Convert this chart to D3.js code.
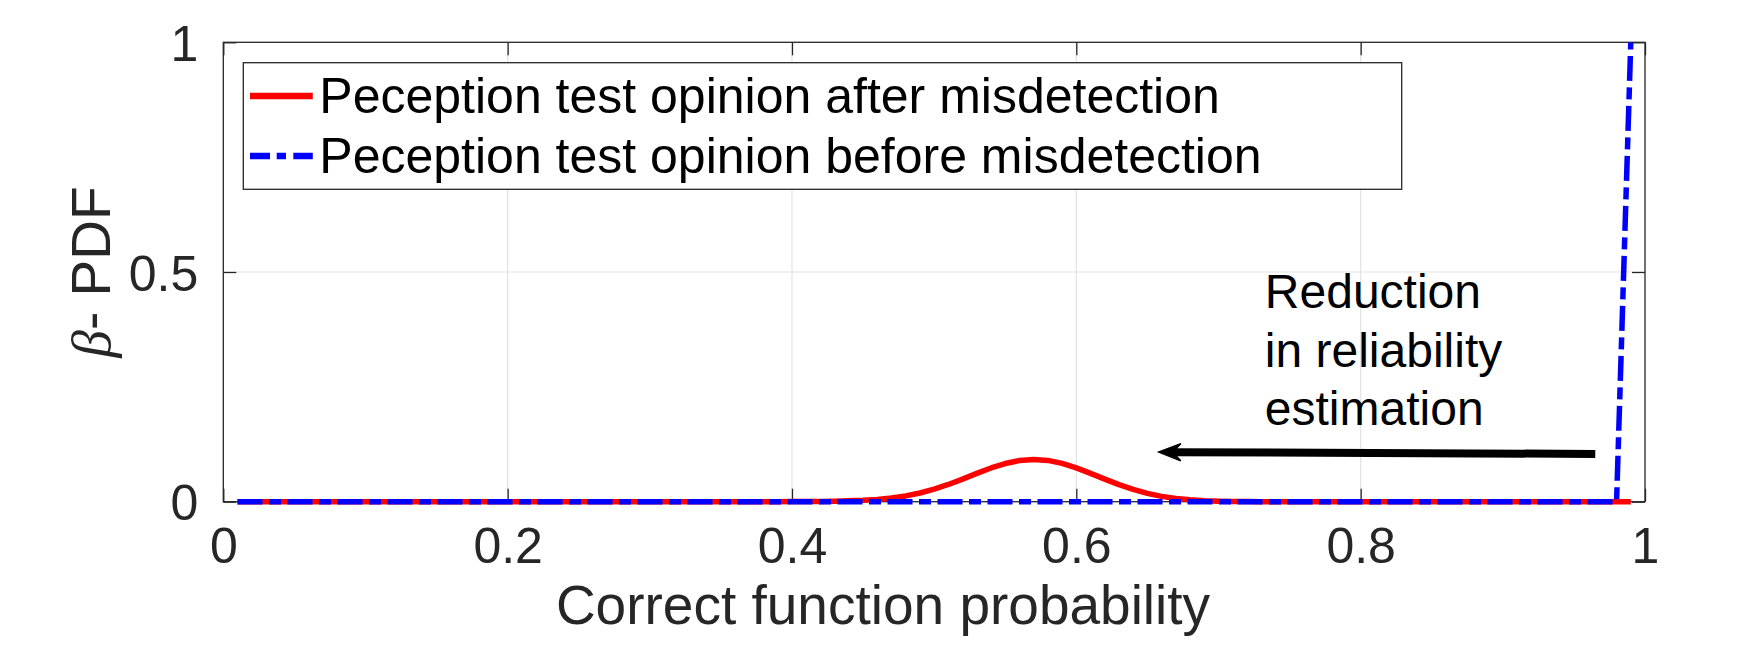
<!DOCTYPE html>
<html>
<head>
<meta charset="utf-8">
<script src="https://cdn.jsdelivr.net/npm/d3@7"></script>
<style>
  body { margin: 0; background: #fff; }
  text { font-family: "Liberation Sans", Arial, Helvetica, sans-serif; }
</style>
</head>
<body>
<div id="chart"></div>
<script>
// Data
// ==============================
var probability = [
  0.01, 0.02, 0.03, 0.04, 0.05, 0.06, 0.07, 0.08, 0.09, 0.10,
  0.11, 0.12, 0.13, 0.14, 0.15, 0.16, 0.17, 0.18, 0.19, 0.20,
  0.21, 0.22, 0.23, 0.24, 0.25, 0.26, 0.27, 0.28, 0.29, 0.30,
  0.31, 0.32, 0.33, 0.34, 0.35, 0.36, 0.37, 0.38, 0.39, 0.40,
  0.41, 0.42, 0.43, 0.44, 0.45, 0.46, 0.47, 0.48, 0.49, 0.50,
  0.51, 0.52, 0.53, 0.54, 0.55, 0.56, 0.57, 0.58, 0.59, 0.60,
  0.61, 0.62, 0.63, 0.64, 0.65, 0.66, 0.67, 0.68, 0.69, 0.70,
  0.71, 0.72, 0.73, 0.74, 0.75, 0.76, 0.77, 0.78, 0.79, 0.80,
  0.81, 0.82, 0.83, 0.84, 0.85, 0.86, 0.87, 0.88, 0.89, 0.90,
  0.91, 0.92, 0.93, 0.94, 0.95, 0.96, 0.97, 0.98, 0.99
];

// after misdetection (red)
var pdfAfter = [
  0, 0, 0, 0, 0, 0, 0, 0, 0, 0,
  0, 0, 0, 0, 0, 0, 0, 0, 0, 0,
  0, 0, 0, 0, 0, 0, 0, 0, 0, 0,
  0, 0, 0, 0, 0, 0, 0, 0, 0, 0.0002,
  0.0003, 0.0006, 0.0010, 0.0018, 0.0030, 0.0050, 0.0081, 0.0126, 0.0190, 0.0273,
  0.0375, 0.0492, 0.0616, 0.0734, 0.0831, 0.0896, 0.0920, 0.0899, 0.0835, 0.0737,
  0.0618, 0.0492, 0.0372, 0.0267, 0.0181, 0.0116, 0.0070, 0.0040, 0.0021, 0.0010,
  0.0005, 0.0002, 0.0001, 0, 0, 0, 0, 0, 0, 0,
  0, 0, 0, 0, 0, 0, 0, 0, 0, 0,
  0, 0, 0, 0, 0, 0, 0, 0, 0
];

// before misdetection (blue)
var pdfBefore = [
  0, 0, 0, 0, 0, 0, 0, 0, 0, 0,
  0, 0, 0, 0, 0, 0, 0, 0, 0, 0,
  0, 0, 0, 0, 0, 0, 0, 0, 0, 0,
  0, 0, 0, 0, 0, 0, 0, 0, 0, 0,
  0, 0, 0, 0, 0, 0, 0, 0, 0, 0,
  0, 0, 0, 0, 0, 0, 0, 0, 0, 0,
  0, 0, 0, 0, 0, 0, 0, 0, 0, 0,
  0, 0, 0, 0, 0, 0, 0, 0, 0, 0,
  0, 0, 0, 0, 0, 0, 0, 0, 0, 0,
  0, 0, 0, 0, 0, 0, 0, 0, 1.0
];

var seriesLabels = [
  "Peception test opinion after misdetection",
  "Peception test opinion before misdetection"
];
var xTicks = [0, 0.2, 0.4, 0.6, 0.8, 1];
var yTicks = [0, 0.5, 1];
var noteLines = ["Reduction", "in reliability", "estimation"];
// arrow start / tip, in data units
var arrowFrom = [0.965, 0.104];
var arrowTo = [0.658, 0.108];

// Layout
// ==============================
var svgWidth = 1748, svgHeight = 646;
var margin = { top: 42.3, left: 223.3, right: 103, bottom: 144.3 };
var width = svgWidth - margin.left - margin.right;
var height = svgHeight - margin.top - margin.bottom;
var axisColor = "#262626";

var svg = d3.select("#chart").append("svg")
  .attr("width", svgWidth)
  .attr("height", svgHeight);

var chartGroup = svg.append("g")
  .attr("transform", `translate(${margin.left}, ${margin.top})`);

var xScale = d3.scaleLinear().domain([0, 1]).range([0, width]);
var yScale = d3.scaleLinear().domain([0, 1]).range([height, 0]);

// grid
chartGroup.append("g").selectAll("line")
  .data(xTicks.slice(1, -1)).enter().append("line")
  .attr("x1", d => xScale(d)).attr("x2", d => xScale(d))
  .attr("y1", 0).attr("y2", height)
  .attr("stroke", "#e3e3e3").attr("stroke-width", 1.2);
chartGroup.append("g").selectAll("line")
  .data(yTicks.slice(1, -1)).enter().append("line")
  .attr("x1", 0).attr("x2", width)
  .attr("y1", d => yScale(d)).attr("y2", d => yScale(d))
  .attr("stroke", "#e3e3e3").attr("stroke-width", 1.2);

// axes (ticks pointing inward, mirrored on top/right)
var tickLen = 13;
var bottomAxis = d3.axisBottom(xScale).tickValues(xTicks).tickSizeInner(-tickLen).tickSizeOuter(0).tickFormat(d => d);
var leftAxis = d3.axisLeft(yScale).tickValues(yTicks).tickSizeInner(-tickLen).tickSizeOuter(0).tickFormat(d => d);
var topAxis = d3.axisTop(xScale).tickValues(xTicks).tickSizeInner(-tickLen).tickSizeOuter(0).tickFormat("");
var rightAxis = d3.axisRight(yScale).tickValues(yTicks).tickSizeInner(-tickLen).tickSizeOuter(0).tickFormat("");

var gx = chartGroup.append("g").attr("transform", `translate(0, ${height})`).call(bottomAxis);
var gy = chartGroup.append("g").call(leftAxis);
var gt = chartGroup.append("g").call(topAxis);
var gr = chartGroup.append("g").attr("transform", `translate(${width}, 0)`).call(rightAxis);

[gx, gy, gt, gr].forEach(function (g) {
  g.select(".domain").remove();
  g.selectAll(".tick line").attr("stroke", axisColor).attr("stroke-width", 1.3);
});

gx.selectAll(".tick text")
  .attr("y", 61.5).attr("dy", 0)
  .attr("font-size", "50px")
  .attr("font-family", "'Liberation Sans', Arial, sans-serif")
  .attr("fill", axisColor);
gy.selectAll(".tick text")
  .attr("x", -25).attr("dy", "0.36em")
  .attr("font-size", "50px")
  .attr("font-family", "'Liberation Sans', Arial, sans-serif")
  .attr("fill", axisColor);

// box
chartGroup.append("rect")
  .attr("width", width).attr("height", height)
  .attr("fill", "none")
  .attr("stroke", axisColor).attr("stroke-width", 1.3);

// clip for the curves
svg.append("defs").append("clipPath").attr("id", "plotClip")
  .append("rect").attr("x", -3).attr("y", 0).attr("width", width + 3).attr("height", height + 4);

var lineAfter = d3.line()
  .x((d, i) => xScale(probability[i]))
  .y(d => yScale(d));

var curves = chartGroup.append("g").attr("clip-path", "url(#plotClip)");
curves.append("path")
  .datum(pdfAfter)
  .attr("d", lineAfter)
  .attr("fill", "none")
  .attr("stroke", "#ff0000")
  .attr("stroke-width", 5.5)
  .attr("stroke-linejoin", "round");
curves.append("path")
  .datum(pdfBefore)
  .attr("d", lineAfter)
  .attr("fill", "none")
  .attr("stroke", "#0000ff")
  .attr("stroke-width", 5.5)
  .attr("stroke-dasharray", "25,6.5,12,6.5");

// axis labels
svg.append("text")
  .attr("x", 883).attr("y", 624)
  .attr("text-anchor", "middle")
  .attr("font-size", "55px")
  .attr("fill", axisColor)
  .text("Correct function probability");

var yLabel = svg.append("text")
  .attr("transform", `translate(110, ${margin.top + height / 2}) rotate(-90)`)
  .attr("text-anchor", "middle")
  .attr("font-size", "55px")
  .attr("fill", axisColor);
yLabel.append("tspan")
  .attr("font-family", "'Liberation Serif', 'DejaVu Serif', serif")
  .attr("font-style", "italic")
  .text("β");
yLabel.append("tspan").text("- PDF");

// annotation
var note = chartGroup.append("g");
note.selectAll("text")
  .data(noteLines).enter().append("text")
  .attr("x", xScale(0.7326))
  .attr("y", (d, i) => yScale(0.421) + i * 58.3)
  .attr("font-size", "48px")
  .attr("fill", "#000")
  .text(d => d);

var ax0 = xScale(arrowFrom[0]), ay0 = yScale(arrowFrom[1]);
var ax1 = xScale(arrowTo[0]), ay1 = yScale(arrowTo[1]);
var ang = Math.atan2(ay1 - ay0, ax1 - ax0) * 180 / Math.PI;
var headLen = 22, headHalf = 8.5;
var len = Math.hypot(ax1 - ax0, ay1 - ay0);
var arrow = note.append("g")
  .attr("transform", `translate(${ax0}, ${ay0}) rotate(${ang})`);
arrow.append("line")
  .attr("x1", 0).attr("y1", 0)
  .attr("x2", len - headLen * 0.6).attr("y2", 0)
  .attr("stroke", "#000").attr("stroke-width", 8);
arrow.append("path")
  .attr("d", `M${len},0 L${len - headLen},${-headHalf} L${len - headLen * 0.62},0 L${len - headLen},${headHalf} Z`)
  .attr("fill", "#000")
  .attr("stroke", "#000").attr("stroke-width", 1.5).attr("stroke-linejoin", "miter");

// legend
var legend = svg.append("g").attr("transform", "translate(243.3, 62.7)");
legend.append("rect")
  .attr("width", 1158.4).attr("height", 126.6)
  .attr("fill", "#fff")
  .attr("stroke", axisColor).attr("stroke-width", 1.3);
var legendRows = legend.selectAll("g.row")
  .data(seriesLabels).enter().append("g")
  .attr("class", "row")
  .attr("transform", (d, i) => `translate(0, ${33.3 + i * 60})`);
legendRows.append("line")
  .attr("x1", 6.7).attr("x2", 69.5)
  .attr("y1", 0).attr("y2", 0)
  .attr("stroke", (d, i) => i === 0 ? "#ff0000" : "#0000ff")
  .attr("stroke-width", 6.5)
  .attr("stroke-dasharray", (d, i) => i === 0 ? null : "20,6.7,9.3,7.3");
legendRows.append("text")
  .attr("x", 76)
  .attr("y", 17.3)
  .attr("font-size", "50px")
  .attr("fill", "#000")
  .text(d => d);
</script>
</body>
</html>
